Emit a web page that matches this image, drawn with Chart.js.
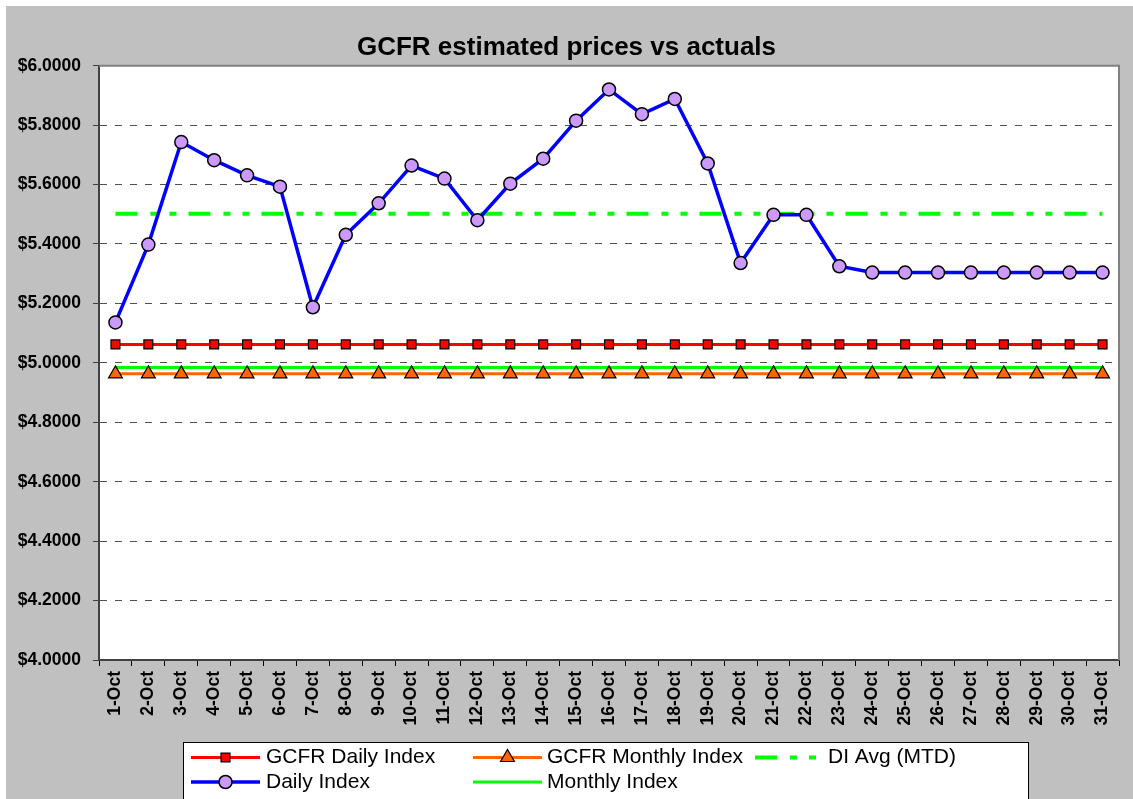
<!DOCTYPE html>
<html>
<head>
<meta charset="utf-8">
<title>GCFR estimated prices vs actuals</title>
<script src="https://cdn.jsdelivr.net/npm/chart.js@4/dist/chart.umd.min.js"></script>
<style>
	html, body { margin: 0; padding: 0; background: #ffffff; }
	#wrap { width: 1133px; height: 799px; position: relative; }
</style>
</head>
<body>
<div id="wrap"><canvas id="gcfrChart" width="1133" height="799"></canvas></div>
<script>
//gcfr estimated prices vs actuals

//data

const days = ['1-Oct', '2-Oct', '3-Oct', '4-Oct', '5-Oct', '6-Oct', '7-Oct', '8-Oct', '9-Oct', '10-Oct',
	'11-Oct', '12-Oct', '13-Oct', '14-Oct', '15-Oct', '16-Oct', '17-Oct', '18-Oct', '19-Oct', '20-Oct',
	'21-Oct', '22-Oct', '23-Oct', '24-Oct', '25-Oct', '26-Oct', '27-Oct', '28-Oct', '29-Oct', '30-Oct', '31-Oct'];

const dailyIndex = [5.136, 5.398, 5.743, 5.682, 5.631, 5.593, 5.187, 5.431, 5.537, 5.664,
	5.620, 5.480, 5.603, 5.687, 5.815, 5.920, 5.837, 5.888, 5.671, 5.336,
	5.498, 5.498, 5.325, 5.304, 5.304, 5.304, 5.304, 5.304, 5.304, 5.304, 5.304];

const gcfrDaily = [5.062, 5.062, 5.062, 5.062, 5.062, 5.062, 5.062, 5.062, 5.062, 5.062,
	5.062, 5.062, 5.062, 5.062, 5.062, 5.062, 5.062, 5.062, 5.062, 5.062,
	5.062, 5.062, 5.062, 5.062, 5.062, 5.062, 5.062, 5.062, 5.062, 5.062, 5.062];

const gcfrMonthly = [4.963, 4.963, 4.963, 4.963, 4.963, 4.963, 4.963, 4.963, 4.963, 4.963,
	4.963, 4.963, 4.963, 4.963, 4.963, 4.963, 4.963, 4.963, 4.963, 4.963,
	4.963, 4.963, 4.963, 4.963, 4.963, 4.963, 4.963, 4.963, 4.963, 4.963, 4.963];

const monthlyIndex = [4.984, 4.984, 4.984, 4.984, 4.984, 4.984, 4.984, 4.984, 4.984, 4.984,
	4.984, 4.984, 4.984, 4.984, 4.984, 4.984, 4.984, 4.984, 4.984, 4.984,
	4.984, 4.984, 4.984, 4.984, 4.984, 4.984, 4.984, 4.984, 4.984, 4.984, 4.984];

const diAvgMtd = [5.502, 5.502, 5.502, 5.502, 5.502, 5.502, 5.502, 5.502, 5.502, 5.502,
	5.502, 5.502, 5.502, 5.502, 5.502, 5.502, 5.502, 5.502, 5.502, 5.502,
	5.502, 5.502, 5.502, 5.502, 5.502, 5.502, 5.502, 5.502, 5.502, 5.502, 5.502];

//axis range
const yMin = 4;
const yMax = 6;
const yStep = 0.2;

//legend order as on the sheet (row by row)
const legendOrder = ['GCFR Daily Index', 'GCFR Monthly Index', 'DI Avg (MTD)', 'Daily Index', 'Monthly Index'];

const FONT = '"Liberation Sans", Arial, sans-serif';
const avgDash = [22, 13, 7, 12, 7, 12];

//datasets - first one is drawn on top
const chartData = {
	labels: days,
	datasets: [{
		label: 'Daily Index',
		data: dailyIndex,
		borderColor: '#0000ff',
		borderWidth: 3.5,
		pointStyle: 'circle',
		pointRadius: 6.5,
		pointBackgroundColor: '#cc99ff',
		pointBorderColor: '#000000',
		pointBorderWidth: 1.5
	}, {
		label: 'GCFR Daily Index',
		data: gcfrDaily,
		borderColor: '#ff0000',
		borderWidth: 3,
		pointStyle: 'rect',
		pointRadius: 6.3,
		pointBackgroundColor: '#ff0000',
		pointBorderColor: '#000000',
		pointBorderWidth: 1.2
	}, {
		label: 'GCFR Monthly Index',
		data: gcfrMonthly,
		borderColor: '#ff6600',
		borderWidth: 3,
		pointStyle: 'triangle',
		pointRadius: 8,
		pointBackgroundColor: '#ff6600',
		pointBorderColor: '#000000',
		pointBorderWidth: 1.2
	}, {
		label: 'Monthly Index',
		data: monthlyIndex,
		borderColor: '#00ff00',
		borderWidth: 3,
		pointRadius: 0
	}, {
		label: 'DI Avg (MTD)',
		data: diAvgMtd,
		borderColor: '#00ff00',
		borderWidth: 4,
		borderDash: avgDash,
		pointRadius: 0
	}]
};

//background, plot area and border
const sheetBackground = {
	id: 'sheetBackground',
	beforeDraw(chart) {
		const { ctx, width, height, chartArea } = chart;
		ctx.save();
		ctx.fillStyle = '#ffffff';
		ctx.fillRect(0, 0, width, height);
		ctx.fillStyle = '#c0c0c0';
		ctx.fillRect(6, 6, width - 6, height - 6);
		ctx.fillStyle = '#ffffff';
		ctx.fillRect(chartArea.left, chartArea.top, chartArea.right - chartArea.left, chartArea.bottom - chartArea.top);
		ctx.restore();
	},
	afterDraw(chart) {
		const { ctx, chartArea } = chart;
		ctx.save();
		ctx.strokeStyle = '#808080';
		ctx.lineWidth = 2;
		ctx.beginPath();
		ctx.moveTo(chartArea.left, chartArea.top);
		ctx.lineTo(chartArea.right, chartArea.top);
		ctx.lineTo(chartArea.right, chartArea.bottom);
		ctx.stroke();
		ctx.restore();
	}
};

//legend box drawn like the excel one
const sheetLegend = {
	id: 'sheetLegend',
	afterDraw(chart) {
		const { ctx } = chart;
		const box = { x: 183.5, y: 742.5, w: 845, h: 70 };
		const cols = [191, 473, 755];
		const swatchW = [69, 69, 63];
		const textGap = [6, 5, 10];
		const rows = [757.5, 782];

		ctx.save();
		ctx.fillStyle = '#ffffff';
		ctx.fillRect(box.x, box.y, box.w, box.h);
		ctx.strokeStyle = '#000000';
		ctx.lineWidth = 1;
		ctx.strokeRect(box.x, box.y, box.w, box.h);

		legendOrder.forEach((name, i) => {
			const ds = chart.data.datasets.find(d => d.label === name);
			const col = i % 3;
			const y = rows[Math.floor(i / 3)];
			const x0 = cols[col];
			const x1 = x0 + swatchW[col];

			ctx.save();
			ctx.strokeStyle = ds.borderColor;
			ctx.lineWidth = ds.borderWidth;
			ctx.setLineDash(ds.borderDash || []);
			ctx.beginPath();
			ctx.moveTo(x0, y);
			ctx.lineTo(x1, y);
			ctx.stroke();
			ctx.restore();

			if (ds.pointRadius > 0) {
				ctx.save();
				ctx.fillStyle = ds.pointBackgroundColor;
				ctx.strokeStyle = ds.pointBorderColor;
				ctx.lineWidth = ds.pointBorderWidth;
				Chart.helpers.drawPoint(ctx, {
					pointStyle: ds.pointStyle,
					radius: ds.pointRadius,
					rotation: 0,
					borderWidth: ds.pointBorderWidth
				}, (x0 + x1) / 2, y);
				ctx.restore();
			}

			ctx.fillStyle = '#000000';
			ctx.font = '21px ' + FONT;
			ctx.textAlign = 'left';
			ctx.textBaseline = 'middle';
			ctx.fillText(name, x1 + textGap[col], y);
		});
		ctx.restore();
	}
};

//chart configuration
const config = {
	type: 'line',
	data: chartData,
	plugins: [sheetBackground, sheetLegend],
	options: {
		responsive: false,
		animation: false,
		devicePixelRatio: 1,
		layout: {
			padding: { left: 14, right: 14, top: 0, bottom: 0 }
		},
		elements: {
			line: { tension: 0 }
		},
		plugins: {
			legend: { display: false },
			tooltip: { enabled: false },
			title: {
				display: true,
				text: 'GCFR estimated prices vs actuals',
				color: '#000000',
				font: { family: FONT, size: 26, weight: 'bold', lineHeight: 1.2 },
				padding: { top: 32, bottom: 2.5 }
			}
		},
		scales: {
			x: {
				offset: true,
				grid: {
					display: true,
					drawOnChartArea: false,
					drawTicks: true,
					offset: true,
					tickLength: 6,
					color: '#000000',
					lineWidth: 1
				},
				border: { display: true, color: '#404040', width: 2 },
				ticks: {
					autoSkip: false,
					minRotation: 90,
					maxRotation: 90,
					padding: 5,
					color: '#000000',
					font: { family: FONT, size: 17.5, weight: 'bold' }
				},
				afterFit: function (scale) {
					scale.height = 139;
				}
			},
			y: {
				min: yMin,
				max: yMax,
				grid: {
					color: '#505050',
					lineWidth: 1,
					tickLength: 6,
					tickColor: '#404040',
					tickBorderDash: []
				},
				border: { display: true, color: '#404040', width: 2, dash: [7, 8] },
				ticks: {
					stepSize: yStep,
					padding: 12,
					color: '#000000',
					font: { family: FONT, size: 17.5, weight: 'bold' },
					callback: function (value) {
						return '$' + value.toFixed(4);
					}
				},
				afterFit: function (scale) {
					scale.width = 85;
				}
			}
		}
	}
};

//initialize chart
const ctx = document.getElementById('gcfrChart').getContext('2d');
const chart = new Chart(ctx, config);
</script>
</body>
</html>
